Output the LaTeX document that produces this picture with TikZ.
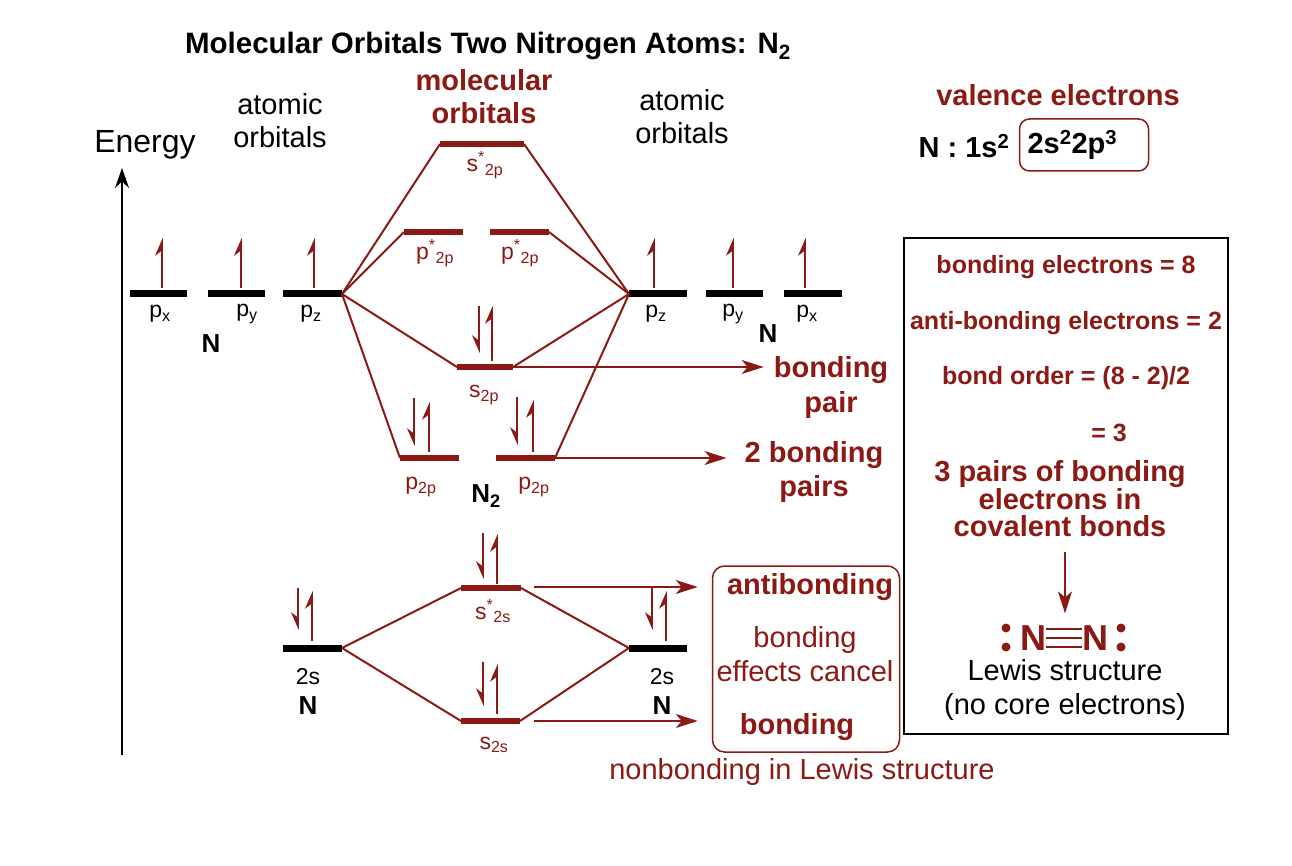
\documentclass[tikz,border=0pt]{standalone}
\usepackage{fontspec}
\setmainfont{Liberation Sans}
\usetikzlibrary{arrows.meta}
\definecolor{mored}{RGB}{140,26,20}

\begin{document}
\begin{tikzpicture}[x=1pt, y=-1pt,
  bar/.style={line width=7pt, black},
  mo/.style={line width=6.5pt, mored},
  corr/.style={line width=2pt, mored},
  spinup/.style={line width=1.5pt, mored, -{Stealth[harpoon, length=16pt, width=14pt]}},
  spindn/.style={line width=1.5pt, mored, -{Stealth[harpoon, swap, length=16pt, width=14pt]}},
  ptr/.style={line width=1.5pt, mored, -{Stealth[length=22pt, width=14pt, inset=6pt]}},
  kr/.style={inner sep=0pt, align=center, font=\fontsize{29}{34}\selectfont},
  kb/.style={inner sep=0pt, align=center, font=\fontsize{29}{35}\selectfont\bfseries},
  rr/.style={kr, text=mored},
  rb/.style={kb, text=mored},
  orb/.style={inner sep=0pt, font=\fontsize{23}{26}\selectfont},
  morb/.style={orb, text=mored},
  atom/.style={inner sep=0pt, font=\fontsize{26}{28}\selectfont\bfseries},
  sumt/.style={inner sep=0pt, text=mored, font=\fontsize{25}{28}\selectfont\bfseries}
]
\useasboundingbox[fill=white] (0,0) rectangle (1292,866);

\node[kb, font=\fontsize{29.5}{35}\selectfont\bfseries] (title) at (488,46) {Molecular Orbitals Two Nitrogen Atoms: N\textsubscript{2}};
\node[rb, font=\fontsize{29}{33}\selectfont\bfseries] (molorb) at (484,97) {molecular\\orbitals};
\node[kr, font=\fontsize{29}{33}\selectfont] (atorbL) at (280,121) {atomic\\orbitals};
\node[kr, font=\fontsize{29}{33}\selectfont] (atorbR) at (682,117) {atomic\\orbitals};
\node[kr, font=\fontsize{32}{34}\selectfont] (energy) at (145,145) {Energy};

\coordinate (axbot) at (122,755);
\coordinate (axtop) at (122,168);
\draw[line width=2pt, -{Stealth[length=20pt, width=14pt]}] (axbot) -- (axtop);

\coordinate (pxL) at (130,294);
\coordinate (pxLe) at (187,294);
\coordinate (pyL) at (208,294);
\coordinate (pyLe) at (265,294);
\coordinate (pzLs) at (283,294);
\coordinate (pzL) at (342,294);
\coordinate (pzR) at (629,294);
\coordinate (pzRe) at (687,294);
\coordinate (pyR) at (706,294);
\coordinate (pyRe) at (763,294);
\coordinate (pxR) at (784,294);
\coordinate (pxRe) at (842,294);
\coordinate (ssLs) at (283,648);
\coordinate (ssL) at (342,648);
\coordinate (ssR) at (629,648);
\coordinate (ssRe) at (687,648);

\coordinate (sp2a) at (440,144);
\coordinate (sp2b) at (524,144);
\coordinate (pp1a) at (404,232);
\coordinate (pp1b) at (463,232);
\coordinate (pp2a) at (490,232);
\coordinate (pp2b) at (549,232);
\coordinate (s2pa) at (457,367);
\coordinate (s2pb) at (513,367);
\coordinate (p1a) at (400,458);
\coordinate (p1b) at (459,458);
\coordinate (p2a) at (496,458);
\coordinate (p2b) at (555,458);
\coordinate (ss2a) at (461,588);
\coordinate (ss2b) at (521,588);
\coordinate (s2sa) at (461,721);
\coordinate (s2sb) at (520,721);

\draw[bar] (pxL) -- (pxLe);
\draw[bar] (pyL) -- (pyLe);
\draw[bar] (pzLs) -- (pzL);
\draw[bar] (pzR) -- (pzRe);
\draw[bar] (pyR) -- (pyRe);
\draw[bar] (pxR) -- (pxRe);
\draw[bar] (ssLs) -- (ssL);
\draw[bar] (ssR) -- (ssRe);

\draw[corr] (pzL) -- (sp2a);
\draw[corr] (pzL) -- (pp1a);
\draw[corr] (pzL) -- (s2pa);
\draw[corr] (pzL) -- (p1a);
\draw[corr] (pzR) -- (sp2b);
\draw[corr] (pzR) -- (pp2b);
\draw[corr] (pzR) -- (s2pb);
\draw[corr] (pzR) -- (p2b);
\draw[corr] (ssL) -- (ss2a);
\draw[corr] (ssL) -- (s2sa);
\draw[corr] (ssR) -- (ss2b);
\draw[corr] (ssR) -- (s2sb);

\draw[mo] (sp2a) -- (sp2b);
\draw[mo] (pp1a) -- (pp1b);
\draw[mo] (pp2a) -- (pp2b);
\draw[mo] (s2pa) -- (s2pb);
\draw[mo] (p1a) -- (p1b);
\draw[mo] (p2a) -- (p2b);
\draw[mo] (ss2a) -- (ss2b);
\draw[mo] (s2sa) -- (s2sb);

\draw[spinup] (162,288) -- (162,238);
\draw[spinup] (241,288) -- (241,238);
\draw[spinup] (314,288) -- (314,238);
\draw[spinup] (654,288) -- (654,238);
\draw[spinup] (733,288) -- (733,238);
\draw[spinup] (805,288) -- (805,238);
\draw[spindn] (298,588) -- (298,630);
\draw[spinup] (312,641) -- (312,591);
\draw[spindn] (652,588) -- (652,630);
\draw[spinup] (666,641) -- (666,591);
\draw[spindn] (483,533) -- (483,579);
\draw[spinup] (497,584) -- (497,534);
\draw[spindn] (483,662) -- (483,706);
\draw[spinup] (497,714) -- (497,664);
\draw[spindn] (479,306) -- (479,353);
\draw[spinup] (492,361) -- (492,306);
\draw[spindn] (414,398) -- (414,446);
\draw[spinup] (429,452) -- (429,402);
\draw[spindn] (517,397) -- (517,445);
\draw[spinup] (533,452) -- (533,400);

\node[orb] (pxLl) at (160,314) {p\textsubscript{x}};
\node[orb] (pyLl) at (247,314) {p\textsubscript{y}};
\node[orb] (pzLl) at (311,314) {p\textsubscript{z}};
\node[orb] (pzRl) at (656,314) {p\textsubscript{z}};
\node[orb] (pyRl) at (733,314) {p\textsubscript{y}};
\node[orb] (pxRl) at (807,314) {p\textsubscript{x}};
\node[atom] (NL) at (211,344) {N};
\node[atom] (NR) at (768,334) {N};
\node[orb] (ssLl) at (308,677) {2s};
\node[atom] (NsL) at (308,706) {N};
\node[orb] (ssRl) at (662,677) {2s};
\node[atom] (NsR) at (662,706) {N};

\node[morb] (sp2l) at (485,165) {s\textsuperscript{*}\textsubscript{2p}};
\node[morb] (pp1l) at (435,253) {p\textsuperscript{*}\textsubscript{2p}};
\node[morb] (pp2l) at (520,253) {p\textsuperscript{*}\textsubscript{2p}};
\node[morb] (s2pl) at (484,395) {s\textsubscript{2p}};
\node[morb] (p1l) at (421,487) {p\textsubscript{2p}};
\node[morb] (p2l) at (534,487) {p\textsubscript{2p}};
\node[atom] (N2) at (486,496) {N\textsubscript{2}};
\node[morb] (ss2l) at (493,611) {s\textsuperscript{*}\textsubscript{2s}};
\node[morb] (s2sl) at (494,745) {s\textsubscript{2s}};

\node[rb] (bpair) at (831,388) {bonding\\pair};
\node[rb] (bpairs) at (814,472) {2 bonding\\pairs};
\draw[ptr] (s2pb) -- ([xshift=-10pt]bpair.west |- s2pb);
\draw[ptr] (p2b) -- ([xshift=-18pt]bpairs.west |- p2b);

\node[draw=mored, line width=1.5pt, rounded corners=12pt, minimum width=187pt, minimum height=186pt] (cancel) at (806,659) {};
\node[rb] (anti) at (810,587) {antibonding};
\node[rr] (effect) at (805,654) {bonding\\effects cancel};
\node[rb] (bond) at (797,727) {bonding};
\node[rr] (nonb) at (802,772) {nonbonding in Lewis structure};
\coordinate (ss2r) at (534,587);
\coordinate (s2sr) at (534,721);
\draw[ptr] (ss2r) -- ([xshift=-14pt]cancel.west |- ss2r);
\draw[ptr] (s2sr) -- ([xshift=-14pt]cancel.west |- s2sr);

\node[rb] (valence) at (1058,95) {valence electrons};
\node[kb] (config) at (964,146) {N : 1s\textsuperscript{2}};
\node[kb, draw=mored, line width=1.5pt, rounded corners=10pt, text width=113pt, align=left, inner xsep=8pt, minimum height=52pt] (vshell) at (1084,145) {2s\textsuperscript{2}2p\textsuperscript{3}};

\node[draw=black, line width=1.5pt, minimum width=324pt, minimum height=496pt] (summary) at (1066,486) {};
\node[sumt] (bel) at (1066,267) {bonding electrons = 8};
\node[sumt] (abel) at (1066,323) {anti-bonding electrons = 2};
\node[sumt] (border) at (1066,378) {bond order = (8 - 2)/2};
\node[sumt] (three) at (1109,433) {= 3};
\node[rb, font=\fontsize{29}{27}\selectfont\bfseries] (pairs) at (1060,499) {3 pairs of bonding\\electrons in\\covalent bonds};
\coordinate (lewtop) at (1065,552);
\node[inner sep=0pt, text=mored, font=\fontsize{36}{38}\selectfont\bfseries] (n1) at (1033,638) {N};
\node[inner sep=0pt, text=mored, font=\fontsize{36}{38}\selectfont\bfseries] (n2) at (1095,638) {N};
\draw[ptr] (lewtop) -- ([yshift=12pt]n1.north -| lewtop);
\draw[mored, line width=2.5pt] ([yshift=9pt]n1.east) -- ([yshift=9pt]n2.west);
\draw[mored, line width=2.5pt] (n1.east) -- (n2.west);
\draw[mored, line width=2.5pt] ([yshift=-9pt]n1.east) -- ([yshift=-9pt]n2.west);
\fill[mored] (1006,628) circle (4.5pt);
\fill[mored] (1006,647) circle (4.5pt);
\fill[mored] (1121,628) circle (4.5pt);
\fill[mored] (1121,647) circle (4.5pt);
\node[kr] (lewis) at (1065,690) {Lewis structure\\(no core electrons)};
\end{tikzpicture}
\end{document}
